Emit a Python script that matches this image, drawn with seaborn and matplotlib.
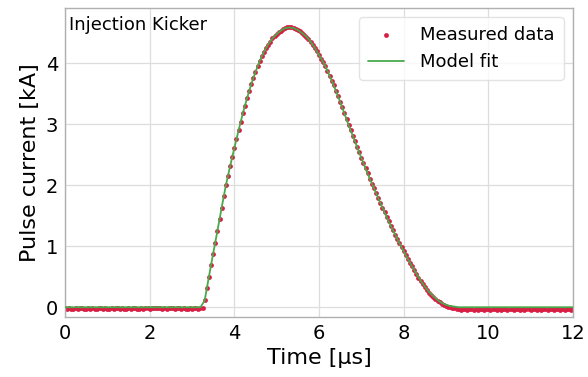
import numpy as np
import pandas as pd
import matplotlib
matplotlib.use("Agg")
import matplotlib.pyplot as plt
import seaborn as sns

# ---------------- data ----------------
dt_measured = 0.05   # µs, sampling interval of measured data
dt_fit = 0.1         # µs, sampling interval of model curve

baseline_before = [
    -0.02, -0.03, -0.02, -0.03, -0.03, -0.02, -0.03, -0.02, -0.02, -0.03, -0.03, -0.02, -0.03,
    -0.02, -0.03, -0.03, -0.02, -0.02, -0.03, -0.02, -0.03, -0.03, -0.02, -0.03, -0.02, -0.02,
    -0.03, -0.02, -0.03, -0.03, -0.02, -0.03, -0.02, -0.02, -0.03, -0.03, -0.02, -0.03, -0.02,
    -0.02, -0.03, -0.02, -0.01, -0.02, -0.02, -0.02, -0.03, -0.02, -0.03, -0.02, -0.01, -0.02,
    -0.03, -0.02, -0.02, -0.03, -0.02, -0.03, -0.03, -0.02, -0.03, -0.02, -0.02, -0.03, -0.02,
]
pulse_measured = [
    -0.01, 0.12, 0.31, 0.50, 0.69, 0.88, 1.06, 1.25, 1.44, 1.63, 1.82, 2.00, 2.16, 2.31, 2.46,
    2.61, 2.76, 2.90, 3.04, 3.18, 3.31, 3.43, 3.55, 3.66, 3.76, 3.86, 3.95, 4.04, 4.12, 4.19,
    4.25, 4.31, 4.36, 4.41, 4.45,
    4.48, 4.51, 4.54, 4.56, 4.58, 4.59, 4.59, 4.59, 4.58, 4.57, 4.55, 4.53, 4.50, 4.47, 4.44,
    4.40, 4.36, 4.31, 4.26, 4.20,
    4.14, 4.08, 4.02, 3.95, 3.88, 3.80, 3.72, 3.64, 3.55, 3.46, 3.37, 3.28, 3.18, 3.09, 2.99,
    2.90, 2.81, 2.72, 2.63, 2.54,
    2.45, 2.37, 2.28, 2.20, 2.11, 2.03, 1.95, 1.87, 1.79, 1.71, 1.63, 1.56, 1.48, 1.41, 1.33,
    1.26, 1.19, 1.12, 1.05, 0.99,
    0.92, 0.86, 0.79, 0.73, 0.67, 0.61, 0.54, 0.48, 0.43, 0.38, 0.33, 0.28, 0.24, 0.20, 0.17,
    0.14, 0.11, 0.08, 0.06, 0.04,
    0.02, 0.01, 0.00, -0.01, -0.02, -0.03, -0.03, -0.04, -0.03,
]
baseline_after = [
    -0.03, -0.04, -0.03, -0.03, -0.04, -0.03, -0.04, -0.03, -0.03, -0.04, -0.03, -0.03, -0.04,
    -0.03, -0.03, -0.04, -0.03, -0.04, -0.03, -0.03, -0.04, -0.03, -0.03, -0.04, -0.03, -0.03,
    -0.04, -0.03, -0.04, -0.03, -0.03, -0.04, -0.03, -0.03, -0.04, -0.03, -0.04, -0.03, -0.03,
    -0.04, -0.03, -0.03, -0.04, -0.03, -0.03, -0.04, -0.03, -0.04, -0.03, -0.03, -0.04, -0.03,
]

fit_before = [0.00] * 33
fit_pulse = [
    0.11, 0.50, 0.88, 1.25, 1.63, 2.00, 2.31, 2.61, 2.90, 3.18,
    3.43, 3.66, 3.86, 4.04, 4.19, 4.31, 4.41, 4.48, 4.54, 4.58,
    4.59, 4.58, 4.55, 4.50, 4.44, 4.36, 4.26, 4.14, 4.02, 3.88,
    3.72, 3.55, 3.37, 3.18, 2.99, 2.81, 2.63, 2.45, 2.28, 2.11,
    1.95, 1.79, 1.63, 1.48, 1.33, 1.19, 1.05, 0.92, 0.79, 0.67,
    0.55, 0.44, 0.34, 0.25, 0.18, 0.12, 0.07, 0.04, 0.02, 0.01,
]
fit_after = [0.00] * 28

x_ticks = [0, 2, 4, 6, 8, 10, 12]
y_ticks = [0, 1, 2, 3, 4]

measured = np.array(baseline_before + pulse_measured + baseline_after)
fit = np.array(fit_before + fit_pulse + fit_after)
df_meas = pd.DataFrame({"t": np.round(np.arange(len(measured)) * dt_measured, 3), "I": measured})
df_fit = pd.DataFrame({"t": np.round(np.arange(len(fit)) * dt_fit, 3), "I": fit})

# ---------------- styling ----------------
sns.set_theme(style="whitegrid")
plt.rcParams["font.family"] = ["DejaVu Sans"]
plt.rcParams["text.color"] = "#000000"

fig = plt.figure(figsize=(5.88, 3.77), dpi=100)
ax = fig.add_axes([0.1105, 0.1592, 0.864, 0.8196])

sns.scatterplot(data=df_meas, x="t", y="I", ax=ax, color="#d81e45", s=12,
                linewidth=0, label="Measured data", zorder=2)
sns.lineplot(data=df_fit, x="t", y="I", ax=ax, color="#4aa84a", linewidth=1.3,
             label="Model fit", zorder=3)

ax.set_xlim(0, 12)
ax.set_ylim(-0.16, 4.91)
ax.set_xticks(x_ticks)
ax.set_yticks(y_ticks)
ax.set_xlabel("Time [µs]", fontsize=16, color="#000000")
ax.set_ylabel("Pulse current [kA]", fontsize=16, color="#000000")
ax.tick_params(axis="both", labelsize=14, labelcolor="#000000", length=3,
               color="#b0b0b0", width=0.8, pad=2)
ax.grid(True, color="#dddddd", linewidth=0.9)
for sp in ax.spines.values():
    sp.set_color("#b0b0b0")
    sp.set_linewidth(1.0)

ax.text(0.008, 0.975, "Injection Kicker", transform=ax.transAxes, ha="left", va="top",
        fontsize=13, color="#000000")

leg = ax.legend(loc="upper right", fontsize=13, frameon=True, borderpad=0.5,
                handlelength=2.0, handletextpad=0.9, markerscale=1.0)
leg.get_frame().set_edgecolor("#dddddd")
for txt in leg.get_texts():
    txt.set_color("#000000")

fig.savefig("out.png", dpi=100)
